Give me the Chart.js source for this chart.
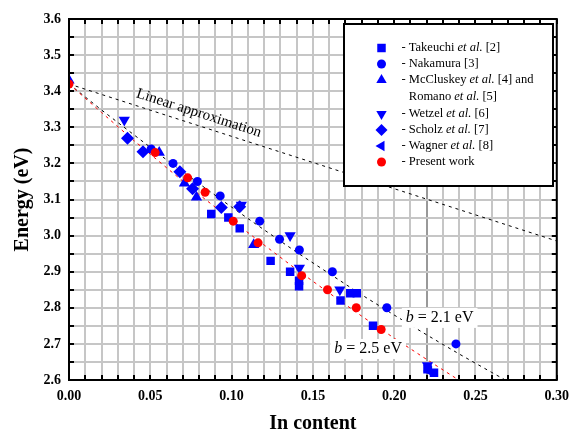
<!DOCTYPE html>
<html>
<head>
<meta charset="utf-8">
<title>Energy vs In content</title>
<script src="https://cdn.jsdelivr.net/npm/chart.js@4.4.0/dist/chart.umd.min.js"></script>
<style>
  html, body { margin: 0; padding: 0; background: #fff; }
</style>
</head>
<body>
<canvas id="bandgap" width="577" height="437"></canvas>
<script>
// ---- data ----
const takeuchi = [[0.0875, 3.06], [0.098, 3.05], [0.105, 3.02], [0.124, 2.93], [0.136, 2.90],
  [0.1415, 2.875], [0.1415, 2.86], [0.167, 2.82], [0.173, 2.84], [0.177, 2.84], [0.187, 2.75],
  [0.2205, 2.63], [0.2245, 2.62]];
const nakamura = [[0.0505, 3.24], [0.064, 3.20], [0.079, 3.15], [0.093, 3.11], [0.1173, 3.04],
  [0.1295, 2.99], [0.1417, 2.96], [0.162, 2.90], [0.1955, 2.80], [0.238, 2.70]];
const mccluskey = [[0.0, 3.43], [0.0555, 3.23], [0.071, 3.145], [0.0784, 3.106], [0.1136, 2.975]];
const wetzel = [[0.034, 3.32], [0.106, 3.085], [0.136, 3.00], [0.1417, 2.91], [0.1666, 2.85], [0.2205, 2.64]];
const scholz = [[0.036, 3.27], [0.0455, 3.232], [0.0682, 3.177], [0.076, 3.13], [0.0937, 3.078], [0.105, 3.08]];
const wagner = [[0.2215, 2.625]];
const presentWork = [[0.0, 3.42], [0.053, 3.23], [0.073, 3.16], [0.0837, 3.12], [0.101, 3.04],
  [0.1163, 2.98], [0.1431, 2.889], [0.159, 2.85], [0.1767, 2.80], [0.192, 2.74]];

// fit curves
const linearX = [0.0, 0.30];
const linearY = [3.42, 2.985];
const curveX = [0, 0.02, 0.04, 0.06, 0.08, 0.10, 0.12, 0.14, 0.16, 0.18, 0.20, 0.22, 0.24, 0.26, 0.28, 0.30];
const bow21Y = [3.420, 3.348, 3.279, 3.210, 3.144, 3.079, 3.016, 2.954, 2.895, 2.836, 2.780, 2.725, 2.672, 2.621, 2.571, 2.523];
const bow25Y = [3.420, 3.341, 3.263, 3.188, 3.114, 3.043, 2.974, 2.906, 2.841, 2.777, 2.716, 2.657, 2.599, 2.544];

const xTickLabels = ['0.00', '0.05', '0.10', '0.15', '0.20', '0.25', '0.30'];
const yTickLabels = ['2.6', '2.7', '2.8', '2.9', '3.0', '3.1', '3.2', '3.3', '3.4', '3.5', '3.6'];

const legendItems = [
  { style: 'rect', rot: 0, color: '#0000ff', lines: [['- Takeuchi ', '*et al.', ' [2]']] },
  { style: 'circle', rot: 0, color: '#0000ff', lines: [['- Nakamura [3]']] },
  { style: 'triangle', rot: 0, color: '#0000ff', lines: [['- McCluskey ', '*et al.', ' [4] and'], ['Romano ', '*et al.', ' [5]']] },
  { style: 'triangle', rot: 180, color: '#0000ff', lines: [['- Wetzel ', '*et al.', ' [6]']] },
  { style: 'rectRot', rot: 0, color: '#0000ff', lines: [['- Scholz ', '*et al.', ' [7]']] },
  { style: 'triangle', rot: 270, color: '#0000ff', lines: [['- Wagner ', '*et al.', ' [8]']] },
  { style: 'circle', rot: 0, color: '#ff0000', lines: [['- Present work']] }
];

const BLUE = '#0000ff';
const RED = '#ff0000';
const SERIF = "'Liberation Serif', 'Times New Roman', serif";

const pts = arr => arr.map(p => ({ x: p[0], y: p[1] }));
const line = (xs, ys) => ys.map((v, i) => ({ x: xs[i], y: v }));

function markerSet(label, data, style, rot, radius, color) {
  return {
    label: label,
    data: pts(data),
    pointStyle: style,
    rotation: rot,
    pointRadius: radius,
    backgroundColor: color,
    borderColor: color,
    borderWidth: 0
  };
}

function curveSet(label, data, color, dash) {
  return {
    label: label,
    data: data,
    showLine: true,
    pointRadius: 0,
    borderColor: color,
    borderWidth: 1,
    borderDash: dash,
    fill: false
  };
}

// draw text made of plain and *italic pieces, return end x
function richText(ctx, pieces, x, y, size) {
  let cx = x;
  pieces.forEach(p => {
    const italic = p.startsWith('*');
    const txt = italic ? p.slice(1) : p;
    ctx.font = (italic ? 'italic ' : '') + size + 'px ' + SERIF;
    ctx.fillText(txt, cx, y);
    cx += ctx.measureText(txt).width;
  });
  return cx;
}

function bLabel(ctx, x, y, value) {
  // "b = 2.1 eV" with italic b, on a white box
  ctx.font = 'italic 16px ' + SERIF;
  const w1 = ctx.measureText('b').width;
  ctx.font = '16px ' + SERIF;
  const rest = ' = ' + value + ' eV';
  const w2 = ctx.measureText(rest).width;
  const w = w1 + w2;
  ctx.fillStyle = '#fff';
  ctx.fillRect(x - w / 2 - 4, y - 10, w + 8, 20);
  ctx.fillStyle = '#000';
  ctx.textBaseline = 'middle';
  ctx.textAlign = 'left';
  ctx.font = 'italic 16px ' + SERIF;
  ctx.fillText('b', x - w / 2, y);
  ctx.font = '16px ' + SERIF;
  ctx.fillText(rest, x - w / 2 + w1, y);
}

const decor = {
  id: 'decor',
  afterDatasetsDraw(chart) {
    const { ctx, chartArea: a } = chart;
    const sx = chart.scales.x, sy = chart.scales.y;
    ctx.save();

    // "Linear approximation" along the line
    const x0 = sx.getPixelForValue(linearX[0]), y0 = sy.getPixelForValue(linearY[0]);
    const x1 = sx.getPixelForValue(linearX[1]), y1 = sy.getPixelForValue(linearY[1]);
    const ang = Math.atan2(y1 - y0, x1 - x0);
    const t = 0.0776 / linearX[1];
    ctx.translate(x0 + (x1 - x0) * t, y0 + (y1 - y0) * t);
    ctx.rotate(ang);
    ctx.fillStyle = '#000';
    ctx.font = '15px ' + SERIF;
    ctx.textAlign = 'center';
    ctx.textBaseline = 'alphabetic';
    ctx.fillText('Linear approximation', 0, -8);
    ctx.setTransform(1, 0, 0, 1, 0, 0);

    bLabel(ctx, sx.getPixelForValue(0.228), sy.getPixelForValue(2.772), '2.1');
    bLabel(ctx, sx.getPixelForValue(0.184), sy.getPixelForValue(2.686), '2.5');

    // frame and inner ticks
    ctx.strokeStyle = '#000';
    ctx.lineWidth = 2;
    ctx.strokeRect(a.left, a.top, a.right - a.left, a.bottom - a.top);
    ctx.beginPath();
    sx.ticks.forEach(tk => {
      const px = Math.round(sx.getPixelForValue(tk.value));
      ctx.moveTo(px, a.bottom); ctx.lineTo(px, a.bottom - 5);
      ctx.moveTo(px, a.top); ctx.lineTo(px, a.top + 5);
    });
    sy.ticks.forEach(tk => {
      const py = Math.round(sy.getPixelForValue(tk.value));
      ctx.moveTo(a.left, py); ctx.lineTo(a.left + 5, py);
      ctx.moveTo(a.right, py); ctx.lineTo(a.right - 5, py);
    });
    ctx.stroke();

    // legend box
    const lx = 344, ly = 24, lw = 209, lh = 162;
    ctx.fillStyle = '#fff';
    ctx.fillRect(lx, ly, lw, lh);
    ctx.lineWidth = 2;
    ctx.strokeRect(lx, ly, lw, lh);
    const rowY = [48, 64, 80, 114, 130, 146, 162];
    ctx.textBaseline = 'middle';
    ctx.textAlign = 'left';
    legendItems.forEach((it, i) => {
      ctx.fillStyle = it.color;
      Chart.helpers.drawPoint(ctx, { pointStyle: it.style, rotation: it.rot, radius: it.style === 'circle' ? 4.5 : 6, borderWidth: 0 }, 381.5, rowY[i]);
      ctx.fillStyle = '#000';
      richText(ctx, it.lines[0], 401.5, rowY[i], 12.5);
      if (it.lines[1]) {
        ctx.font = '12.5px ' + SERIF;
        const indent = ctx.measureText('- ').width;
        richText(ctx, it.lines[1], 401.5 + indent, rowY[i] + 16.5, 12.5);
      }
    });

    // axis titles
    ctx.fillStyle = '#000';
    ctx.font = 'bold 20px ' + SERIF;
    ctx.textAlign = 'center';
    ctx.textBaseline = 'middle';
    ctx.fillText('In content', (a.left + a.right) / 2, 424);
    ctx.translate(23, (a.top + a.bottom) / 2);
    ctx.rotate(-Math.PI / 2);
    ctx.fillText('Energy (eV)', 0, 0);
    ctx.restore();
  }
};

const chart = new Chart(document.getElementById('bandgap'), {
  type: 'scatter',
  data: {
    datasets: [
      markerSet('Present work', presentWork, 'circle', 0, 4.5, RED),
      markerSet('Wagner et al. [8]', wagner, 'triangle', 270, 6, BLUE),
      markerSet('Scholz et al. [7]', scholz, 'rectRot', 0, 6.5, BLUE),
      markerSet('Wetzel et al. [6]', wetzel, 'triangle', 180, 6.5, BLUE),
      markerSet('McCluskey et al. [4] and Romano et al. [5]', mccluskey, 'triangle', 0, 6.5, BLUE),
      markerSet('Nakamura [3]', nakamura, 'circle', 0, 4.5, BLUE),
      markerSet('Takeuchi et al. [2]', takeuchi, 'rect', 0, 6, BLUE),
      curveSet('b = 2.5 eV', line(curveX, bow25Y), RED, [3, 4]),
      curveSet('b = 2.1 eV', line(curveX, bow21Y), '#000', [3, 4]),
      curveSet('Linear approximation', line(linearX, linearY), '#000', [3, 4])
    ]
  },
  options: {
    responsive: false,
    animation: false,
    layout: { padding: { top: 19, right: 17, left: 0, bottom: 0 } },
    plugins: { legend: { display: false }, tooltip: { enabled: false } },
    scales: {
      x: {
        type: 'linear',
        min: 0, max: 0.30,
        afterFit: s => { s.height = 57; },
        border: { display: false },
        grid: {
          drawTicks: false,
          lineWidth: 2,
          color: c => (c.tick && Math.abs(c.tick.value - 0.22) < 1e-6) ? '#999999' : '#c6c6c6'
        },
        ticks: {
          stepSize: 0.01,
          autoSkip: false,
          maxRotation: 0,
          padding: 8,
          color: '#000',
          font: { family: SERIF, size: 14, weight: 'bold' },
          callback: v => {
            const k = Math.round(v * 100);
            return k % 5 === 0 ? xTickLabels[k / 5] : '';
          }
        }
      },
      y: {
        type: 'linear',
        min: 2.6, max: 3.6,
        afterFit: s => { s.width = 69; },
        border: { display: false },
        grid: { drawTicks: false, lineWidth: 2, color: '#c6c6c6' },
        ticks: {
          stepSize: 0.05,
          autoSkip: false,
          padding: 8,
          color: '#000',
          font: { family: SERIF, size: 14, weight: 'bold' },
          callback: v => {
            const k = Math.round(v * 100);
            return k % 10 === 0 ? yTickLabels[(k - 260) / 10] : '';
          }
        }
      }
    }
  },
  plugins: [decor]
});
</script>
</body>
</html>
